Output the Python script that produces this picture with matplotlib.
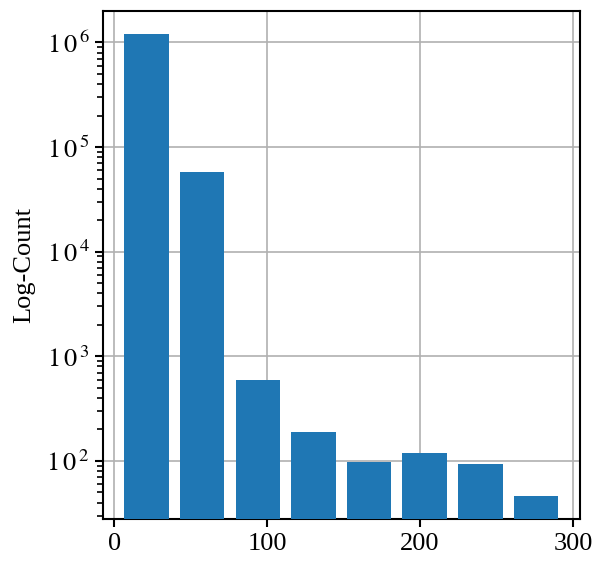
import numpy as np
import matplotlib
matplotlib.use("Agg")
import matplotlib.pyplot as plt
from matplotlib.ticker import FuncFormatter

plt.rcParams['font.family'] = ['Liberation Serif', 'DejaVu Serif']
plt.rcParams['mathtext.fontset'] = 'stix'
plt.rcParams['font.size'] = 19

# histogram bins (edges) and counts per bin
bin_edges = np.linspace(3, 294, 9)
counts = [1.2e6, 58200, 594, 187, 97, 119, 93, 46]

fig = plt.figure(figsize=(5.98, 5.61), dpi=100)
ax = fig.add_axes([0.1717, 0.0743, 0.798, 0.906])

ax.hist(bin_edges[:-1], bins=bin_edges, weights=counts, rwidth=0.8,
        log=True, color='#1f77b4', zorder=3)
ax.grid(True, color='#b0b0b0', linewidth=1.2, zorder=0)
ax.set_axisbelow(True)
ax.set_xticks([0, 100, 200, 300])
# wider spacing like the original labels
ax.yaxis.set_major_formatter(FuncFormatter(
    lambda v, p: r'$1\,0^{\,%d}$' % round(np.log10(v))))
ax.set_ylabel('Log-Count', labelpad=8)
for s in ax.spines.values():
    s.set_linewidth(1.5)
ax.tick_params(which='major', width=1.5, length=6)
ax.tick_params(which='minor', width=1.2, length=4)

fig.savefig('out.png', dpi=100)
